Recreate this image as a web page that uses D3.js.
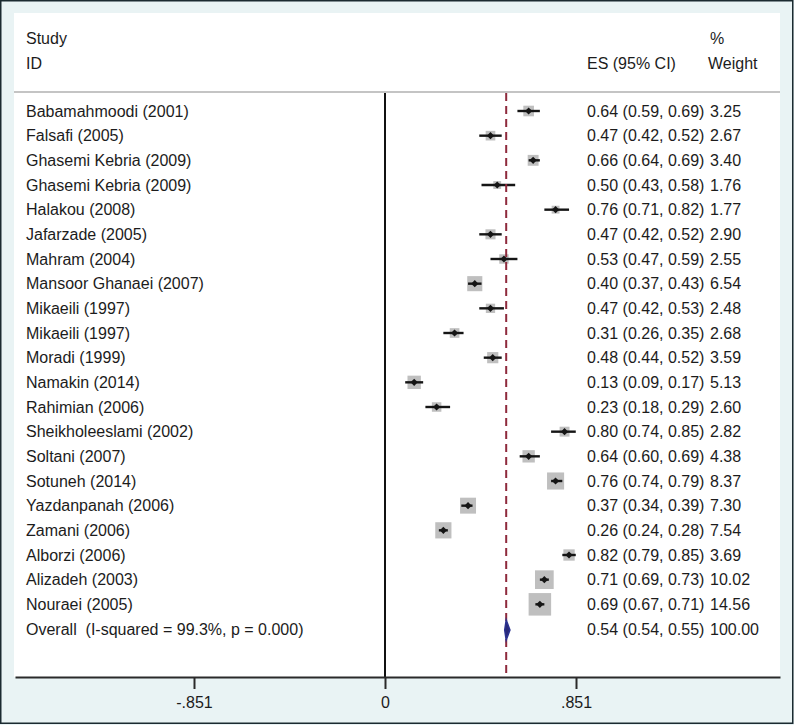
<!DOCTYPE html>
<html>
<head>
<meta charset="utf-8">
<script src="https://cdn.jsdelivr.net/npm/d3@7/dist/d3.min.js"></script>
<style>
  html, body { margin: 0; padding: 0; background: #fff; }
  svg text { font-family: "Liberation Sans", Arial, Helvetica, sans-serif; fill: #1c1c1c; white-space: pre; }
</style>
</head>
<body>
<svg id="chart" width="794" height="725"></svg>
<script>
// ---- data ----
const studies = [
  "Babamahmoodi (2001)", "Falsafi (2005)", "Ghasemi Kebria (2009)", "Ghasemi Kebria (2009)",
  "Halakou (2008)", "Jafarzade (2005)", "Mahram (2004)", "Mansoor Ghanaei (2007)",
  "Mikaeili (1997)", "Mikaeili (1997)", "Moradi (1999)", "Namakin (2014)",
  "Rahimian (2006)", "Sheikholeeslami (2002)", "Soltani (2007)", "Sotuneh (2014)",
  "Yazdanpanah (2006)", "Zamani (2006)", "Alborzi (2006)", "Alizadeh (2003)", "Nouraei (2005)"
];
const es      = [0.64, 0.47, 0.66, 0.50, 0.76, 0.47, 0.53, 0.40, 0.47, 0.31, 0.48, 0.13, 0.23, 0.80, 0.64, 0.76, 0.37, 0.26, 0.82, 0.71, 0.69];
const ciLow   = [0.59, 0.42, 0.64, 0.43, 0.71, 0.42, 0.47, 0.37, 0.42, 0.26, 0.44, 0.09, 0.18, 0.74, 0.60, 0.74, 0.34, 0.24, 0.79, 0.69, 0.67];
const ciHigh  = [0.69, 0.52, 0.69, 0.58, 0.82, 0.52, 0.59, 0.43, 0.53, 0.35, 0.52, 0.17, 0.29, 0.85, 0.69, 0.79, 0.39, 0.28, 0.85, 0.73, 0.71];
const weights = [3.25, 2.67, 3.40, 1.76, 1.77, 2.90, 2.55, 6.54, 2.48, 2.68, 3.59, 5.13, 2.60, 2.82, 4.38, 8.37, 7.30, 7.54, 3.69, 10.02, 14.56];
const overallLabel = "Overall  (I-squared = 99.3%, p = 0.000)";
const overallES = 0.54, overallLow = 0.54, overallHigh = 0.55, overallWeight = 100.00;
const tickValues = [-0.851, 0, 0.851];
const tickLabels = ["-.851", "0", ".851"];

// ---- layout ----
const svg = d3.select("#chart");
const W = 794, H = 725;
const plot = {left: 14, right: 780, top: 13, bottom: 677};
const sepY = 92;

// background
svg.append("rect").attr("x", 0).attr("y", 0).attr("width", W).attr("height", H).attr("fill", "#e9f3f4");
svg.append("rect").attr("x", 0.75).attr("y", 0.75).attr("width", W - 2).attr("height", H - 2.5)
  .attr("fill", "none").attr("stroke", "#1b2a30").attr("stroke-width", 1.5);
svg.append("rect").attr("x", plot.left).attr("y", plot.top)
  .attr("width", plot.right - plot.left).attr("height", plot.bottom - plot.top).attr("fill", "#ffffff");

// scales
const base = d3.scaleLinear().domain([-0.851, 0.851]).range([194, 576]);
const x = d3.scaleLinear().domain([base.invert(plot.left + 1), base.invert(plot.right)]).range([plot.left + 1, plot.right]);
const rowLabels = studies.concat([overallLabel]);
const y = d3.scaleLinear().domain([0, rowLabels.length - 1]).range([111, 629]);
const boxSize = d3.scaleSqrt().domain([0, 1]).range([0, 5.9]);

// header
const fs = 16;
function txt(s, tx, ty, anchor) {
  return svg.append("text").attr("x", tx).attr("y", ty).attr("dy", "0.35em")
    .attr("xml:space", "preserve")
    .attr("font-size", fs).attr("text-anchor", anchor || "start").text(s);
}
txt("Study", 26, 38);
txt("ID", 26, 63);
txt("%", 710, 38);
txt("ES (95% CI)", 587, 63);
txt("Weight", 708, 63);

svg.append("line").attr("x1", plot.left).attr("x2", plot.right).attr("y1", sepY).attr("y2", sepY)
  .attr("stroke", "#c4c4c4").attr("stroke-width", 2);

// zero line
svg.append("line").attr("x1", x(0)).attr("x2", x(0)).attr("y1", sepY + 1).attr("y2", plot.bottom)
  .attr("stroke", "#111").attr("stroke-width", 2);

// boxes
const rows = studies.map((s, i) => ({s, es: es[i], lo: ciLow[i], hi: ciHigh[i], w: weights[i], i}));
const g = svg.append("g");
g.selectAll("rect.box").data(rows).enter().append("rect").attr("class", "box")
  .attr("x", d => x(d.es) - boxSize(d.w) / 2)
  .attr("y", d => y(d.i) - boxSize(d.w) / 2)
  .attr("width", d => boxSize(d.w)).attr("height", d => boxSize(d.w))
  .attr("fill", "#bfbfbf");

// overall dashed line
svg.append("line").attr("x1", x(overallES)).attr("x2", x(overallES)).attr("y1", sepY + 1).attr("y2", plot.bottom)
  .attr("stroke", "#8e2a3c").attr("stroke-width", 2).attr("stroke-dasharray", "8,5");

// CI lines
g.selectAll("line.ci").data(rows).enter().append("line").attr("class", "ci")
  .attr("x1", d => x(d.lo)).attr("x2", d => x(d.hi))
  .attr("y1", d => y(d.i)).attr("y2", d => y(d.i))
  .attr("stroke", "#151515").attr("stroke-width", 2.4);

// point markers (small diamonds)
g.selectAll("path.pt").data(rows).enter().append("path").attr("class", "pt")
  .attr("d", d => {
    const cx = x(d.es), cy = y(d.i), r = 3.6;
    return `M${cx - r},${cy}L${cx},${cy - r}L${cx + r},${cy}L${cx},${cy + r}Z`;
  })
  .attr("fill", "#151515");

// overall diamond
const oy = y(studies.length) + 1;
svg.append("path")
  .attr("d", `M${x(overallLow) - 1.5},${oy}L${x(overallES)},${oy - 10}L${x(overallHigh) + 1.5},${oy}L${x(overallES)},${oy + 10}Z`)
  .attr("fill", "#2a2a7a").attr("stroke", "#2b3290").attr("stroke-width", 1.5);

// text columns
const f2 = d3.format(".2f");
rowLabels.forEach((s, i) => txt(s, 26, y(i)));
rows.forEach(d => {
  txt(`${f2(d.es)} (${f2(d.lo)}, ${f2(d.hi)})`, 587, y(d.i));
  txt(f2(d.w), 710, y(d.i));
});
txt(`${f2(overallES)} (${f2(overallLow)}, ${f2(overallHigh)})`, 587, y(studies.length));
txt(f2(overallWeight), 710, y(studies.length));

// axis
const axis = d3.axisBottom(x).tickValues(tickValues).tickFormat((d, i) => tickLabels[i])
  .tickSize(12).tickPadding(8).tickSizeOuter(0);
const ax = svg.append("g").attr("transform", `translate(0,${plot.bottom})`).call(axis);
ax.select(".domain").attr("stroke", "#2a2a2a").attr("stroke-width", 2);
ax.selectAll(".tick line").attr("stroke", "#2a2a2a").attr("stroke-width", 2);
ax.selectAll(".tick text").attr("font-size", fs).attr("fill", "#1c1c1c")
  .attr("font-family", "'Liberation Sans', Arial, sans-serif");
</script>
</body>
</html>
